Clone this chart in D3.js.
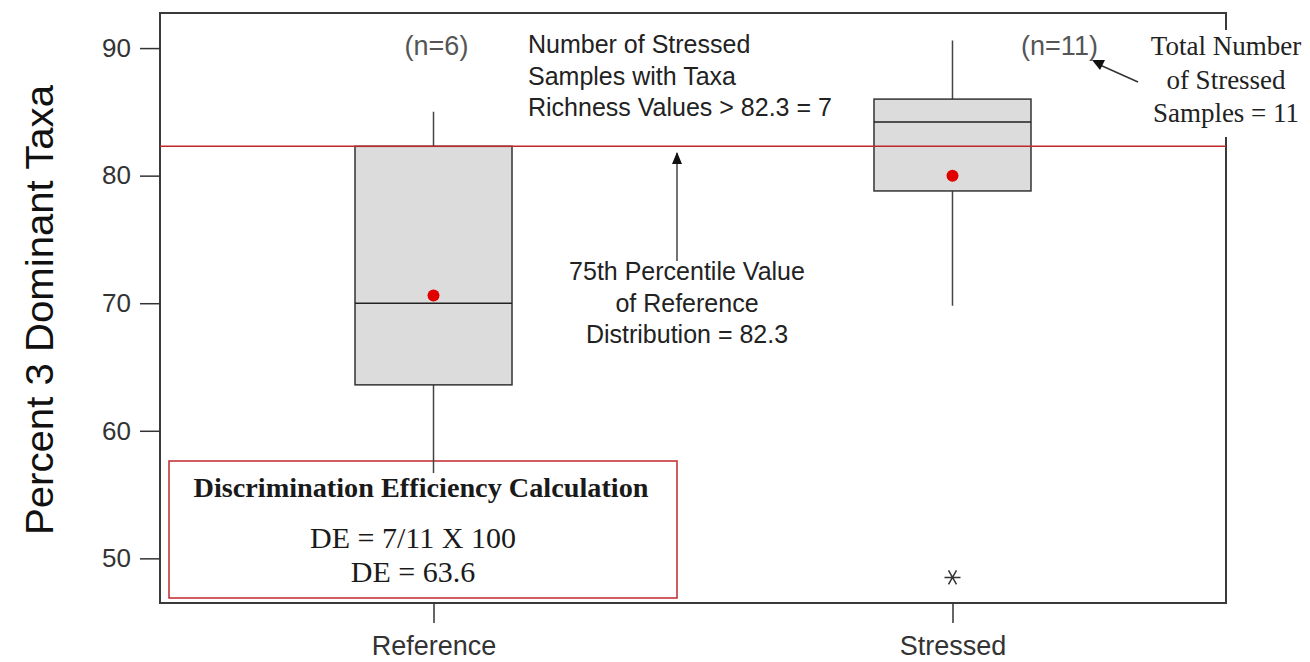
<!DOCTYPE html>
<html>
<head>
<meta charset="utf-8">
<script src="https://cdnjs.cloudflare.com/ajax/libs/d3/7.8.5/d3.min.js"></script>
<style>
  body { margin: 0; background: #fff; }
  svg { display: block; }
</style>
</head>
<body>
<svg id="chart" width="1310" height="662"></svg>
<script>
// Box plot data
var categories = ["Reference", "Stressed"];
var sampleCounts = [6, 11];
var whiskerLow = [56.7, 69.8];
var q1 = [63.6, 78.8];
var median = [70.0, 84.2];
var q3 = [82.3, 86.0];
var whiskerHigh = [85.0, 90.6];
var means = [70.6, 80.0];
var outliers = [{cat: "Stressed", value: 48.5}];
var threshold = 82.3;
var yTicks = [50, 60, 70, 80, 90];

// Layout
var plotLeft = 160, plotRight = 1226, plotTop = 13, plotBottom = 603;
var boxWidth = 157;
var sans = "'Liberation Sans', Arial, sans-serif";
var serif = "'Liberation Serif', 'Times New Roman', serif";

var svg = d3.select('#chart');

var x = d3.scalePoint()
  .domain(categories)
  .range([plotLeft, plotRight])
  .padding(0.527);

var y = d3.scaleLinear()
  .domain([46.5, 92.75])
  .range([plotBottom, plotTop]);

var boxes = categories.map(function(c, i){
  return {cat: c, lo: whiskerLow[i], q1: q1[i], med: median[i], q3: q3[i], hi: whiskerHigh[i], mean: means[i], n: sampleCounts[i]};
});

// Frame
svg.append('rect')
  .attr('x', plotLeft).attr('y', plotTop)
  .attr('width', plotRight - plotLeft).attr('height', plotBottom - plotTop)
  .attr('fill', 'none').attr('stroke', '#3a3a3a').attr('stroke-width', 2);

// Axes
var yAxis = d3.axisLeft(y).tickValues(yTicks).tickSize(20).tickPadding(9);
var gy = svg.append('g').attr('transform', 'translate(' + plotLeft + ',0)').call(yAxis);
gy.select('.domain').remove();
gy.selectAll('line').attr('stroke', '#333').attr('stroke-width', 1.5);
gy.selectAll('text').attr('fill', '#333').style('font', '26px ' + sans);

var xAxis = d3.axisBottom(x).tickSize(20).tickPadding(13);
var gx = svg.append('g').attr('transform', 'translate(0,' + plotBottom + ')').call(xAxis);
gx.select('.domain').remove();
gx.selectAll('line').attr('stroke', '#333').attr('stroke-width', 1.5);
gx.selectAll('text').attr('fill', '#333').style('font', '27px ' + sans);

// Y axis title
svg.append('text')
  .attr('transform', 'translate(53,310) rotate(-90)')
  .attr('text-anchor', 'middle')
  .attr('textLength', 450)
  .attr('lengthAdjust', 'spacingAndGlyphs')
  .style('font', '38px ' + sans)
  .attr('fill', '#111')
  .text('Percent 3 Dominant Taxa');

// Discrimination efficiency box (drawn under the whisker)
var deBox = {x0: 169, x1: 677, y0: 461, y1: 598};
svg.append('rect')
  .attr('x', deBox.x0).attr('y', deBox.y0)
  .attr('width', deBox.x1 - deBox.x0).attr('height', deBox.y1 - deBox.y0)
  .attr('fill', '#fff').attr('stroke', '#c0282d').attr('stroke-width', 1.5);
var deCx = (deBox.x0 + deBox.x1) / 2;
svg.append('text').attr('x', deCx - 2).attr('y', 497).attr('text-anchor', 'middle')
  .attr('textLength', 455).attr('lengthAdjust', 'spacingAndGlyphs')
  .style('font', 'bold 27px ' + serif).attr('fill', '#1a1a1a')
  .text('Discrimination Efficiency Calculation');
svg.append('text').attr('x', deCx - 10).attr('y', 548).attr('text-anchor', 'middle')
  .style('font', '30px ' + serif).attr('fill', '#1a1a1a')
  .text('DE = 7/11 X 100');
svg.append('text').attr('x', deCx - 10).attr('y', 582).attr('text-anchor', 'middle')
  .style('font', '30px ' + serif).attr('fill', '#1a1a1a')
  .text('DE = 63.6');

// Whiskers
var g = svg.append('g');
g.selectAll('.whisker')
  .data(boxes)
  .enter()
  .append('line')
  .attr('class', 'whisker')
  .attr('x1', function(d){ return x(d.cat); })
  .attr('x2', function(d){ return x(d.cat); })
  .attr('y1', function(d){ return y(d.lo); })
  .attr('y2', function(d){ return y(d.hi); })
  .attr('stroke', '#444').attr('stroke-width', 1.5);

// Boxes
g.selectAll('.box')
  .data(boxes)
  .enter()
  .append('rect')
  .attr('class', 'box')
  .attr('x', function(d){ return x(d.cat) - boxWidth / 2; })
  .attr('y', function(d){ return y(d.q3); })
  .attr('width', boxWidth)
  .attr('height', function(d){ return y(d.q1) - y(d.q3); })
  .attr('fill', '#dcdcdc').attr('stroke', '#333').attr('stroke-width', 1.5);

g.selectAll('.median')
  .data(boxes)
  .enter()
  .append('line')
  .attr('class', 'median')
  .attr('x1', function(d){ return x(d.cat) - boxWidth / 2; })
  .attr('x2', function(d){ return x(d.cat) + boxWidth / 2; })
  .attr('y1', function(d){ return y(d.med); })
  .attr('y2', function(d){ return y(d.med); })
  .attr('stroke', '#222').attr('stroke-width', 1.5);

// 75th percentile threshold line
svg.append('line')
  .attr('x1', plotLeft).attr('x2', plotRight)
  .attr('y1', y(threshold)).attr('y2', y(threshold))
  .attr('stroke', '#c0282d').attr('stroke-width', 1.5);

// Means
svg.selectAll('.mean')
  .data(boxes)
  .enter()
  .append('circle')
  .attr('class', 'mean')
  .attr('cx', function(d){ return x(d.cat); })
  .attr('cy', function(d){ return y(d.mean); })
  .attr('r', 6)
  .attr('fill', '#e00000');

// Outliers drawn as asterisks
var star = svg.selectAll('.outlier')
  .data(outliers)
  .enter()
  .append('g')
  .attr('class', 'outlier')
  .attr('transform', function(d){ return 'translate(' + x(d.cat) + ',' + y(d.value) + ')'; });
star.append('path')
  .attr('d', 'M-8,0H8M-4,-7L4,7M4,-7L-4,7')
  .attr('stroke', '#333').attr('stroke-width', 1.5).attr('fill', 'none');

// Sample counts
svg.selectAll('.count')
  .data(boxes)
  .enter()
  .append('text')
  .attr('class', 'count')
  .attr('x', function(d, i){ return x(d.cat) + (i === 0 ? 3 : 107); })
  .attr('y', 55)
  .attr('text-anchor', 'middle')
  .style('font', '27px ' + sans)
  .attr('fill', '#555')
  .text(function(d){ return '(n=' + d.n + ')'; });

// Annotation: stressed samples above threshold
var note1 = ['Number of Stressed', 'Samples with Taxa', 'Richness Values > 82.3 = 7'];
svg.selectAll('.note1')
  .data(note1)
  .enter()
  .append('text')
  .attr('class', 'note1')
  .attr('x', 528)
  .attr('y', function(d, i){ return 53 + i * 31.5; })
  .style('font', '25px ' + sans)
  .attr('fill', '#222')
  .text(function(d){ return d; });

// Annotation: 75th percentile with arrow
svg.append('line')
  .attr('x1', 677).attr('x2', 677)
  .attr('y1', 261).attr('y2', 153)
  .attr('stroke', '#444').attr('stroke-width', 1.5);
svg.append('path')
  .attr('d', 'M677,152L672,164L682,164Z')
  .attr('fill', '#111');

var note2 = ['75th Percentile Value', 'of Reference', 'Distribution = 82.3'];
svg.selectAll('.note2')
  .data(note2)
  .enter()
  .append('text')
  .attr('class', 'note2')
  .attr('x', 687)
  .attr('y', function(d, i){ return 280 + i * 31.5; })
  .attr('text-anchor', 'middle')
  .style('font', '25px ' + sans)
  .attr('fill', '#222')
  .text(function(d){ return d; });

// Annotation: total stressed samples (covers part of the right border)
svg.append('rect')
  .attr('x', 1146).attr('y', 30)
  .attr('width', 162).attr('height', 107)
  .attr('fill', '#fff');
var note3 = ['Total Number', 'of Stressed', 'Samples = 11'];
svg.selectAll('.note3')
  .data(note3)
  .enter()
  .append('text')
  .attr('class', 'note3')
  .attr('x', 1226)
  .attr('y', function(d, i){ return 55 + i * 33.5; })
  .attr('text-anchor', 'middle')
  .style('font', '27px ' + serif)
  .attr('fill', '#222')
  .text(function(d){ return d; });
svg.append('line')
  .attr('x1', 1138).attr('y1', 82)
  .attr('x2', 1100).attr('y2', 65)
  .attr('stroke', '#333').attr('stroke-width', 1.5);
svg.append('path')
  .attr('d', 'M1092,60L1105,60L1100,70Z')
  .attr('fill', '#111');
</script>
</body>
</html>
